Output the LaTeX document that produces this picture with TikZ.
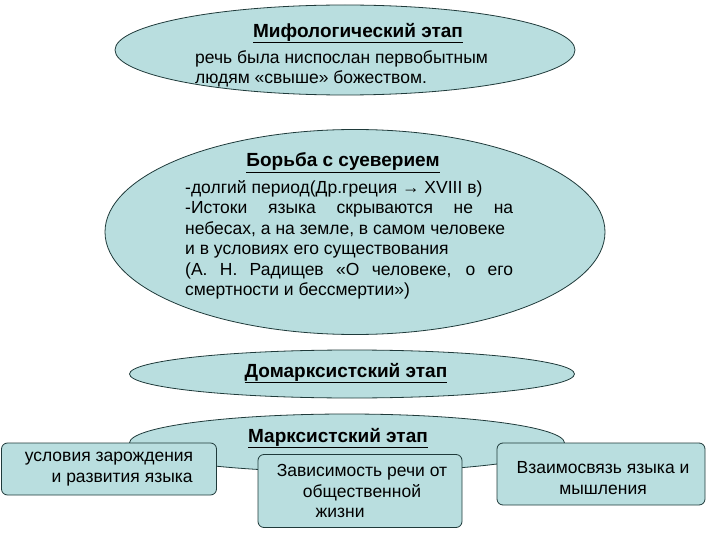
\documentclass[tikz,border=0pt]{standalone}
\usepackage{fontspec}
\setmainfont{Liberation Sans}
\usetikzlibrary{shapes.geometric}
\definecolor{efill}{HTML}{B9DEDF}
\definecolor{edraw}{HTML}{1F3A3A}
\tikzset{
  stage/.style={ellipse,draw=edraw,fill=efill,line width=0.8pt,inner sep=0pt},
  rbox/.style={draw=edraw,fill=efill,line width=0.8pt,rounded corners=6pt,inner sep=0pt},
  txt/.style={font=\fontsize{17.5}{20.5}\selectfont,inner sep=0pt,align=left},
  ttl/.style={font=\fontsize{19}{21}\selectfont\bfseries,inner sep=0pt}
}
\begin{document}
\begin{tikzpicture}[x=1pt,y=-1pt]
\useasboundingbox (0,0) rectangle (720,540);
\node[stage,minimum width=460,minimum height=90] (e1) at (345,50) {};
\node[ttl] (t1) at (358,33) {\underline{Мифологический этап}};
\node[txt,anchor=west] (b1) at (195,69) {речь была ниспослан первобытным\\людям «свыше» божеством.};
\node[stage,minimum width=500,minimum height=205] (e2) at (355,232) {};
\node[ttl] (t2) at (343,163) {\underline{Борьба с суеверием}};
\node[txt,anchor=north west,text width=328,align=justify] (b2) at (185,180) {-долгий период(Др.греция → XVIII в)\newline -Истоки языка скрываются не на\linebreak небесах, а на земле, в самом человеке\newline и в условиях его существования\newline (А. Н. Радищев «О человеке, о его\linebreak смертности и бессмертии»)};
\node[stage,minimum width=445,minimum height=48] (e3) at (352,374) {};
\node[ttl] (t3) at (346,373) {\underline{Домарксистский этап}};
\node[stage,minimum width=435,minimum height=58] (e4) at (347,443) {};
\node[ttl] (t4) at (338,438) {\underline{Марксистский этап}};
\node[rbox,minimum width=215,minimum height=52] (r1) at (109,469) {};
\node[txt,align=center] (l1) at (109,469) {условия зарождения\\\hspace*{1.5em}и развития языка};
\node[rbox,minimum width=204,minimum height=73] (r2) at (360,491) {};
\node[txt,align=center] (l2) at (362,491) {Зависимость речи от\\общественной\\\hspace*{-2.5em}жизни};
\node[rbox,minimum width=208,minimum height=62] (r3) at (601,474) {};
\node[txt,align=center] (l3) at (603,478) {Взаимосвязь языка и\\мышления};
\end{tikzpicture}
\end{document}
